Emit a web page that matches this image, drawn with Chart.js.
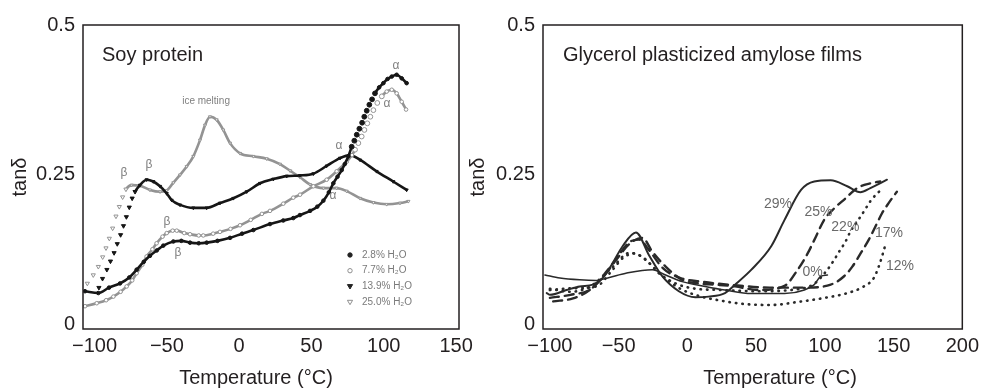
<!DOCTYPE html>
<html>
<head>
<meta charset="utf-8">
<script src="https://cdn.jsdelivr.net/npm/chart.js@4.4.1/dist/chart.umd.min.js"></script>
<style>
  html, body { margin: 0; padding: 0; background: #fff; }
  body { width: 984px; height: 389px; position: relative; overflow: hidden; }
  .panel { position: absolute; top: 0; height: 389px; }
  #soyBox { left: 0; width: 480px; }
  #amyBox { left: 462px; width: 522px; }
</style>
</head>
<body>
<div class="panel" id="soyBox"><canvas id="soyChart" width="480" height="389"></canvas></div>
<div class="panel" id="amyBox"><canvas id="amyChart" width="522" height="389"></canvas></div>
<script>
// ---- axes ----
const yTicks = [0, 0.25, 0.5];
const yLabels = ['0', '0.25', '0.5'];
const soyXTicks = [-100, -50, 0, 50, 100, 150];
const soyXLabels = ['−100', '−50', '0', '50', '100', '150'];
const amyXTicks = [-100, -50, 0, 50, 100, 150, 200];
const amyXLabels = ['−100', '−50', '0', '50', '100', '150', '200'];

// ---- soy protein (left) ----
const soyNames = ['2.8% H₂O', '7.7% H₂O', '13.9% H₂O', '25.0% H₂O'];

const soyT_28 = [-106.6,-97.4,-90,-82.4,-76,-70.9,-66,-61.7,-57,-52.5,-45.5,-40,-34,-28,-22.5,-15,-6.3,2,9.8,21.3,30.5,37.4,42,49,54,58.2,62,65.1,68,70.9,73,75.5,77.8,79.6,81.3,83.1,85,86.5,88.2,90,91.9,93.9,96.8,99.7,102.6,105.5,108.9,112.4,115.8];
const soyV_28 = [0.056,0.053,0.062,0.069,0.079,0.092,0.105,0.115,0.124,0.132,0.139,0.14,0.137,0.136,0.137,0.14,0.145,0.152,0.158,0.168,0.174,0.178,0.183,0.19,0.197,0.207,0.221,0.236,0.247,0.258,0.268,0.281,0.297,0.307,0.317,0.327,0.337,0.347,0.357,0.367,0.376,0.386,0.396,0.403,0.41,0.414,0.417,0.411,0.403];

const soyT_77 = [-106.6,-98.5,-92,-87,-82,-77.8,-74,-70.9,-67,-64,-60,-57.1,-53,-50.1,-46,-43.2,-38,-34,-28,-24.8,-18,-13.3,-6,0.6,8,15.7,21.3,30.5,37.4,42.1,51.3,60.5,67.4,74.4,78,80.1,82.4,84.7,86.6,88.6,90.7,92.8,95.5,98.6,102,105.5,108.9,112.4,115.4];
const soyV_77 = [0.031,0.036,0.041,0.047,0.055,0.064,0.074,0.086,0.1,0.114,0.126,0.136,0.147,0.153,0.157,0.157,0.153,0.151,0.149,0.149,0.152,0.155,0.16,0.166,0.175,0.185,0.19,0.202,0.212,0.217,0.231,0.242,0.256,0.272,0.283,0.292,0.303,0.314,0.325,0.336,0.347,0.358,0.37,0.381,0.389,0.392,0.386,0.372,0.359];

const soyT_139 = [-97,-94.5,-91.5,-89,-86.5,-84.3,-82,-80,-78,-76,-74,-72,-68.6,-64,-59.4,-54.7,-50.1,-46.7,-40.9,-31.7,-22.5,-13.3,-4,5.2,14.4,23.6,32.9,42,51.3,60.5,69.7,76.6,83.6,95,106.5,115.8];
const soyV_139 = [0.062,0.077,0.092,0.106,0.12,0.135,0.15,0.165,0.18,0.196,0.211,0.222,0.233,0.242,0.239,0.231,0.219,0.208,0.2,0.195,0.195,0.203,0.211,0.222,0.236,0.243,0.248,0.249,0.252,0.265,0.278,0.283,0.275,0.256,0.239,0.225];

const soyT_250 = [-105,-100.9,-97.4,-94.4,-92.1,-89.8,-87.5,-85.2,-82.9,-80.6,-78.3,-74.3,-68.6,-61.7,-54.7,-50.1,-45.5,-40.9,-36.3,-31.7,-27.1,-23.6,-20.2,-15.6,-11,-6.3,0.6,9.8,19,28.2,35.2,42.1,49,58.2,67.4,74.3,83.6,92.8,102,111.2,117];
const soyV_250 = [0.069,0.083,0.097,0.113,0.128,0.144,0.161,0.181,0.197,0.213,0.226,0.233,0.232,0.225,0.222,0.224,0.237,0.25,0.264,0.281,0.308,0.333,0.347,0.342,0.325,0.303,0.286,0.281,0.277,0.268,0.257,0.246,0.234,0.228,0.228,0.223,0.211,0.204,0.201,0.203,0.206];

const soyNoteText = ['ice melting', 'β', 'β', 'β', 'β', 'α', 'α', 'α', 'α'];
const soyNoteT = [-22.9, -79.6, -62.4, -49.9, -42.3, 108.5, 102.2, 69, 64.9];
const soyNoteV = [0.372, 0.253, 0.267, 0.172, 0.12, 0.432, 0.368, 0.298, 0.215];

// ---- glycerol plasticized amylose films (right) ----
const amyNames = ['29%', '25%', '22%', '17%', '12%', '0%'];

const amyT_29 = [-102.3,-99.9,-87.9,-78.3,-68.7,-61.5,-54.3,-47.1,-37.4,-27.9,-18.3,-6.2,5.8,15.4,27.4,34.7,46.6,61,70.7,82.7,92.3,104.3,116.3,125.9,133.1,145.2];
const amyV_29 = [0.053,0.05,0.058,0.064,0.067,0.078,0.103,0.131,0.154,0.116,0.081,0.056,0.046,0.047,0.053,0.067,0.092,0.131,0.175,0.225,0.239,0.241,0.231,0.221,0.228,0.242];

const amyT_25 = [-97.6,-83.2,-71.1,-59.1,-51.9,-42,-32.7,-25.5,-15.8,-3.8,8.2,20.2,34.7,51.5,70.7,80.3,87.5,93.5,99.5,106.7,115.1,123.5,133.1,140.3];
const amyV_25 = [0.039,0.044,0.058,0.086,0.108,0.135,0.145,0.122,0.097,0.075,0.069,0.067,0.064,0.058,0.065,0.092,0.119,0.147,0.175,0.194,0.211,0.228,0.236,0.239];

const amyT_22 = [-100,-83.2,-66.3,-54.3,-47.1,-38.7,-30.2,-20.6,-8.6,3.4,25,50,75,92,101.9,106.7,110.4,115.1,118.7,123.5,128.4,133.1,138,142.8];
const amyV_22 = [0.058,0.061,0.064,0.092,0.111,0.119,0.108,0.086,0.069,0.061,0.058,0.056,0.058,0.068,0.092,0.108,0.122,0.139,0.156,0.172,0.189,0.206,0.219,0.228];

const amyT_17 = [-100,-85,-70,-55,-42,-35,-28,-18,-5,10,30,60,85,104.3,114,120,126,132,136.8,141.6,146.4,152.4];
const amyV_17 = [0.045,0.05,0.06,0.1,0.138,0.142,0.125,0.095,0.078,0.072,0.067,0.062,0.062,0.067,0.081,0.097,0.119,0.142,0.164,0.186,0.203,0.222];

const amyT_12 = [-100,-85,-70,-55,-42,-32,-20,-5,10,20.2,40,61,80,100,115,128.4,135.6,139.2,141.6,144];
const amyV_12 = [0.06,0.055,0.065,0.095,0.12,0.112,0.085,0.06,0.047,0.042,0.035,0.033,0.038,0.045,0.052,0.064,0.078,0.097,0.114,0.133];

const amyT_0 = [-103.6,-92.7,-78.3,-66.3,-56.7,-44.7,-25.5,-15.8,-3.8,13,27.4,46.6,70.7,85.1,92.3,97.1,101.9];
const amyV_0 = [0.083,0.078,0.075,0.074,0.079,0.086,0.092,0.083,0.072,0.064,0.058,0.052,0.052,0.058,0.067,0.081,0.083];

const amyNoteText = ['29%', '25%', '22%', '17%', '12%', '0%'];
const amyNoteT = [65.9, 95.4, 114.9, 146.6, 154.6, 91.1];
const amyNoteV = [0.202, 0.188, 0.163, 0.153, 0.098, 0.087];

// ------------------------------------------------------------------
const FONT = '"Liberation Sans", Arial, Helvetica, sans-serif';
const INK = '#231f20';

function pts(t, v) {
  return t.map((x, i) => ({ x: x, y: v[i] }));
}

// line hidden where the original only shows scattered markers
function soySet(label, t, v, o) {
  const lo = o.sparse[0], hi = o.sparse[1];
  const inSparse = x => x >= lo && x <= hi;
  return {
    label: label,
    data: pts(t, v),
    borderColor: o.color,
    borderWidth: o.width,
    pointStyle: o.shape,
    rotation: o.rot || 0,
    pointBackgroundColor: o.fill,
    pointBorderColor: o.color,
    pointBorderWidth: 1,
    pointRadius: c => inSparse(c.raw.x) ? 2.4 : 1.8,
    cubicInterpolationMode: 'monotone',
    segment: {
      borderColor: c => (inSparse(c.p0.parsed.x) && inSparse(c.p1.parsed.x)) ? 'rgba(0,0,0,0)' : o.color
    }
  };
}

function amySet(label, t, v, dash, width) {
  return {
    label: label,
    data: pts(t, v),
    borderColor: '#2a2a2a',
    borderWidth: width,
    borderDash: dash,
    borderCapStyle: 'round',
    pointRadius: 0,
    cubicInterpolationMode: 'monotone'
  };
}

const panelText = {
  id: 'panelText',
  afterDatasetsDraw(chart, args, opts) {
    const ctx = chart.ctx, a = chart.chartArea;
    const sx = chart.scales.x, sy = chart.scales.y;
    ctx.save();
    ctx.strokeStyle = INK;
    ctx.lineWidth = 1.5;
    ctx.strokeRect(a.left, a.top, a.right - a.left, a.bottom - a.top);

    ctx.fillStyle = INK;
    ctx.font = '20px ' + FONT;
    ctx.textAlign = 'left';
    ctx.textBaseline = 'alphabetic';
    ctx.fillText(opts.title, a.left + opts.titleDx, a.top + 36);

    ctx.textAlign = 'center';
    ctx.textBaseline = 'middle';
    ctx.fillText(opts.xTitle, opts.xTitleX, 378);

    opts.notes.text.forEach((s, i) => {
      ctx.font = (s.length > 4 ? opts.noteSmall : opts.noteFont) + 'px ' + FONT;
      ctx.fillStyle = opts.noteColor;
      ctx.fillText(s, sx.getPixelForValue(opts.notes.t[i]), sy.getPixelForValue(opts.notes.v[i]));
    });

    if (opts.legend) {
      const lg = opts.legend;
      ctx.font = '10px ' + FONT;
      lg.names.forEach((name, i) => {
        const cx = a.left + lg.dx, cy = a.top + lg.dy + i * lg.step;
        ctx.beginPath();
        if (lg.shapes[i] === 'circle') {
          ctx.arc(cx, cy, 2.2, 0, Math.PI * 2);
        } else {
          ctx.moveTo(cx - 2.6, cy - 1.8);
          ctx.lineTo(cx + 2.6, cy - 1.8);
          ctx.lineTo(cx, cy + 2.6);
          ctx.closePath();
        }
        ctx.fillStyle = lg.fills[i];
        ctx.strokeStyle = lg.strokes[i];
        ctx.lineWidth = 1;
        ctx.fill();
        ctx.stroke();
        ctx.fillStyle = '#7a7a7a';
        ctx.textAlign = 'left';
        ctx.fillText(name, cx + 12, cy);
      });
    }
    ctx.restore();
  }
};

function axes(xMin, xMax, xTicks, xLabels, yWidth, titlePad) {
  return {
    x: {
      type: 'linear', min: xMin, max: xMax,
      afterBuildTicks: s => { s.ticks = xTicks.map(v => ({ value: v })); },
      afterFit: s => { s.height = 60; },
      ticks: {
        callback: (v, i) => xLabels[i],
        font: { family: FONT, size: 20 }, color: INK,
        padding: 5, maxRotation: 0, autoSkip: false
      },
      grid: { display: false, drawTicks: false },
      border: { display: false }
    },
    y: {
      type: 'linear', min: -0.007, max: 0.5,
      afterBuildTicks: s => { s.ticks = yTicks.map(v => ({ value: v })); },
      afterFit: s => { s.width = yWidth; },
      ticks: {
        callback: (v, i) => yLabels[i],
        font: { family: FONT, size: 20 }, color: INK, padding: 8
      },
      title: {
        display: true, text: 'tanδ', color: INK,
        font: { family: FONT, size: 20 }, padding: { top: titlePad, bottom: 0 }
      },
      grid: { display: false, drawTicks: false },
      border: { display: false }
    }
  };
}

new Chart(document.getElementById('soyChart'), {
  type: 'line',
  data: {
    datasets: [
      soySet(soyNames[0], soyT_28, soyV_28, { color: '#161616', fill: '#161616', shape: 'circle', width: 2.6, sparse: [76.5, 94.5] }),
      soySet(soyNames[1], soyT_77, soyV_77, { color: '#939393', fill: '#ffffff', shape: 'circle', width: 2.6, sparse: [79, 99] }),
      soySet(soyNames[2], soyT_139, soyV_139, { color: '#161616', fill: '#161616', shape: 'triangle', rot: 180, width: 2.6, sparse: [-98, -71.5] }),
      soySet(soyNames[3], soyT_250, soyV_250, { color: '#939393', fill: '#ffffff', shape: 'triangle', rot: 180, width: 2.6, sparse: [-106, -77.5] })
    ]
  },
  options: {
    responsive: false,
    animation: false,
    layout: { padding: { top: 25, right: 21, bottom: 0, left: 0 } },
    scales: axes(-108, 152, soyXTicks, soyXLabels, 83, 8),
    plugins: {
      legend: { display: false },
      tooltip: { enabled: false },
      panelText: {
        title: 'Soy protein', titleDx: 19,
        xTitle: 'Temperature (°C)', xTitleX: 256,
        notes: { text: soyNoteText, t: soyNoteT, v: soyNoteV },
        noteFont: 12, noteSmall: 10, noteColor: '#808080',
        legend: {
          names: soyNames, dx: 267, dy: 230, step: 15.7,
          shapes: ['circle', 'circle', 'triangle', 'triangle'],
          fills: ['#222', '#fff', '#222', '#fff'],
          strokes: ['#222', '#8f8f8f', '#222', '#8f8f8f']
        }
      }
    }
  },
  plugins: [panelText]
});

new Chart(document.getElementById('amyChart'), {
  type: 'line',
  data: {
    datasets: [
      amySet(amyNames[0], amyT_29, amyV_29, [], 2),
      amySet(amyNames[1], amyT_25, amyV_25, [9, 6], 2.4),
      amySet(amyNames[2], amyT_22, amyV_22, [0.5, 6], 2.6),
      amySet(amyNames[3], amyT_17, amyV_17, [9, 6], 2.4),
      amySet(amyNames[4], amyT_12, amyV_12, [0.5, 6], 2.6),
      amySet(amyNames[5], amyT_0, amyV_0, [], 1.5)
    ]
  },
  options: {
    responsive: false,
    animation: false,
    layout: { padding: { top: 25, right: 18, bottom: 0, left: 0 } },
    scales: axes(-105, 200, amyXTicks, amyXLabels, 81, 4),
    plugins: {
      legend: { display: false },
      tooltip: { enabled: false },
      panelText: {
        title: 'Glycerol plasticized amylose films', titleDx: 20,
        xTitle: 'Temperature (°C)', xTitleX: 318,
        notes: { text: amyNoteText, t: amyNoteT, v: amyNoteV },
        noteFont: 14, noteSmall: 14, noteColor: '#6a6a6a'
      }
    }
  },
  plugins: [panelText]
});
</script>
</body>
</html>
